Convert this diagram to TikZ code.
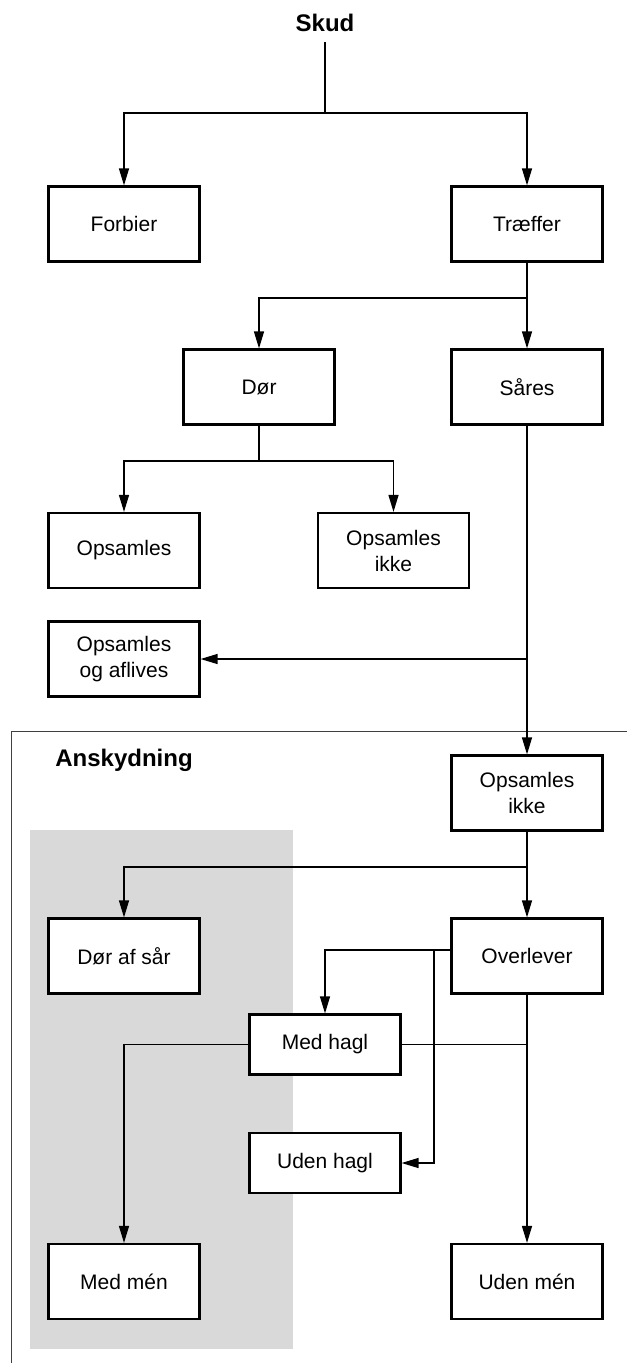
\documentclass[tikz,border=0pt]{standalone}
\usepackage{fontspec}
\setmainfont{Liberation Sans}
\usetikzlibrary{arrows.meta}
\begin{document}
\begin{tikzpicture}[x=1pt,y=-1pt,
  box/.style={draw, line width=2.2pt, fill=white, minimum width=151pt, minimum height=75pt,
    align=center, inner sep=2pt, font=\fontsize{21}{26}\selectfont},
  smallbox/.style={box, minimum height=60pt},
  conn/.style={line width=1.3pt},
  arr/.style={line width=1.3pt, -{Triangle[length=17pt,width=10pt]}},
  titletext/.style={font=\bfseries\fontsize{24}{28}\selectfont, inner sep=0pt},
  frameline/.style={line width=0.9pt, draw=black!75}]
\useasboundingbox (0,0) rectangle (627,1363);
% background shading and frame
\fill[gray!30] (30,830) rectangle (293,1349);
\draw[frameline] (11,1363) -- (11,731) -- (627,731);
% nodes
\node[titletext] (skud) at (325,23) {Skud};
\node[titletext] (ansk) at (124,760) {Anskydning};
\node[box] (forbier) at (124,224) {Forbier};
\node[box] (traeffer) at (527,224) {Træffer};
\node[box] (dor) at (259,387) {Dør};
\node[box] (sares) at (527,387) {Såres};
\node[box] (opsamles) at (124,550.5) {Opsamles};
\node[box] (opsikke1) at (393.5,550.5) {Opsamles\\ikke};
\node[box] (aflives) at (124,659) {Opsamles\\og aflives};
\node[box] (opsikke2) at (527,793) {Opsamles\\ikke};
\node[box] (dorafsar) at (124,956) {Dør af sår};
\node[box] (overlever) at (527,956) {Overlever};
\node[smallbox] (medhagl) at (325,1044.5) {Med hagl};
\node[smallbox] (udenhagl) at (325,1163) {Uden hagl};
\node[box] (medmen) at (124,1281.5) {Med mén};
\node[box] (udenmen) at (527,1281.5) {Uden mén};
% junctions
\coordinate (s0) at (325,42);
\coordinate (j1) at (325,113);
\coordinate (j2) at (527,298);
\coordinate (j3) at (259,461);
\coordinate (j4) at (527,659);
\coordinate (j5) at (527,867);
\coordinate (ow) at (450,950);
\coordinate (j6) at (434,950);
\coordinate (j7) at (527,1044.5);
% connectors
\draw[conn] (s0) -- (j1);
\draw[arr] (j1) -| (forbier.north);
\draw[arr] (j1) -| (traeffer.north);
\draw[arr] (traeffer.south) -- (sares.north);
\draw[arr] (j2) -| (dor.north);
\draw[conn] (dor.south) -- (j3);
\draw[arr] (j3) -| (opsamles.north);
\draw[arr] (j3) -| (opsikke1.north);
\draw[arr] (sares.south) -- (opsikke2.north);
\draw[arr] (j4) -- (aflives.east);
\draw[arr] (opsikke2.south) -- (overlever.north);
\draw[arr] (j5) -| (dorafsar.north);
\draw[arr] (ow) -| (medhagl.north);
\draw[arr] (j6) |- (udenhagl.east);
\draw[arr] (overlever.south) -- (udenmen.north);
\draw[conn] (medhagl.east) -- (j7);
\draw[arr] (medhagl.west) -| (medmen.north);
\end{tikzpicture}
\end{document}
